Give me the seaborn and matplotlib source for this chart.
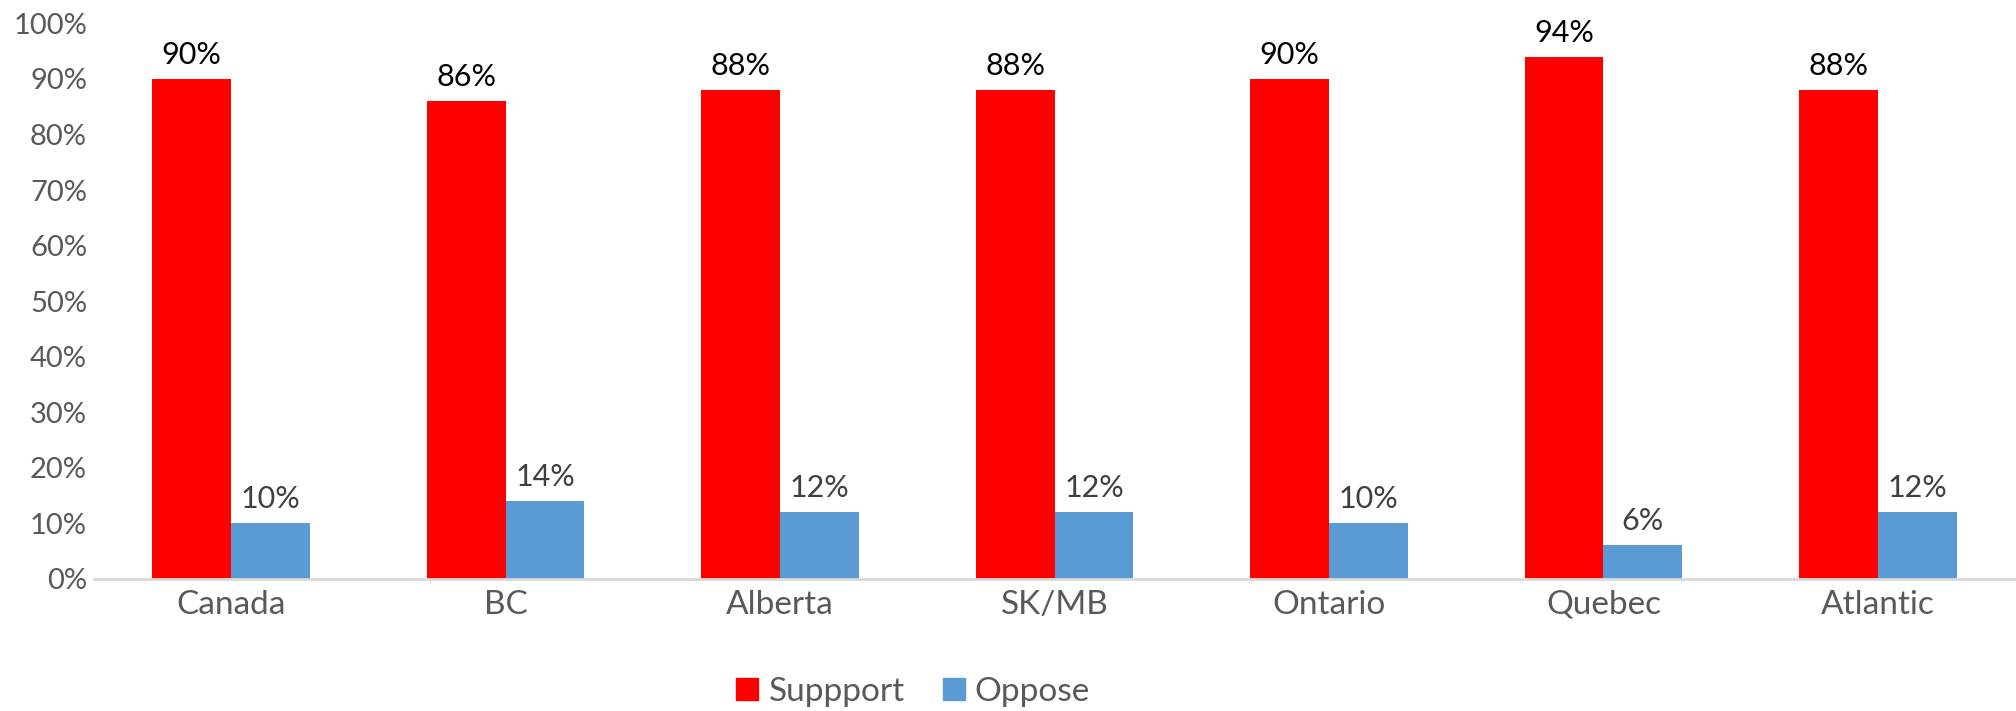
import pandas as pd
import matplotlib.pyplot as plt
import seaborn as sns

# Dati
regions = ["Canada", "BC", "Alberta", "SK/MB", "Ontario", "Quebec", "Atlantic"]
support = [90, 86, 88, 88, 90, 94, 88]
oppose = [10, 14, 12, 12, 10, 6, 12]
series = ["Suppport", "Oppose"]
colors = {"Suppport": "#ff0000", "Oppose": "#5b9bd5"}

df = pd.DataFrame({
    "region": regions * 2,
    "value": support + oppose,
    "series": [series[0]] * len(regions) + [series[1]] * len(regions),
})

sns.set_style("white")
plt.rcParams['font.family'] = ['Lato', 'DejaVu Sans']

fig = plt.figure(figsize=(20.16, 7.11), dpi=100)
ax = fig.add_axes([0.0466, 0.186, 0.953, 0.781])

sns.barplot(data=df, x="region", y="value", hue="series", order=regions,
            hue_order=series, palette=colors, width=0.574, saturation=1,
            linewidth=0, ax=ax)

ax.set_ylim(0, 100)
ax.set_yticks(range(0, 101, 10))
ax.set_yticklabels([f"{v}%" for v in range(0, 101, 10)])
ax.set_xlim(-0.5, len(regions) - 0.5)
ax.set_xlabel("")
ax.set_ylabel("")
ax.tick_params(axis='y', labelsize=21, colors="#595959", length=0, pad=5)
ax.tick_params(axis='x', labelsize=24, colors="#595959", length=0, pad=8)

for s in ["top", "right", "left"]:
    ax.spines[s].set_visible(False)
ax.spines["bottom"].set_color("#d9d9d9")
ax.spines["bottom"].set_linewidth(2)

# Etichette dei valori
label_colors = ["#000000", "#404040"]
for cont, lc in zip(ax.containers, label_colors):
    for bar in cont:
        h = bar.get_height()
        ax.annotate(f"{h:.0f}%", (bar.get_x() + bar.get_width() / 2, h),
                    xytext=(0, 11), textcoords="offset points",
                    ha="center", va="baseline", fontsize=22, color=lc)

ax.get_legend().remove()
handles = [plt.Rectangle((0, 0), 1, 1, color=colors[s]) for s in series]
fig.legend(handles, series, loc="center", bbox_to_anchor=(0.453, 0.027),
           ncol=2, frameon=False, fontsize=24, labelcolor="#595959",
           handlelength=0.66, handleheight=0.66, handletextpad=0.3,
           columnspacing=1.15)

fig.savefig("out.png", dpi=100)
